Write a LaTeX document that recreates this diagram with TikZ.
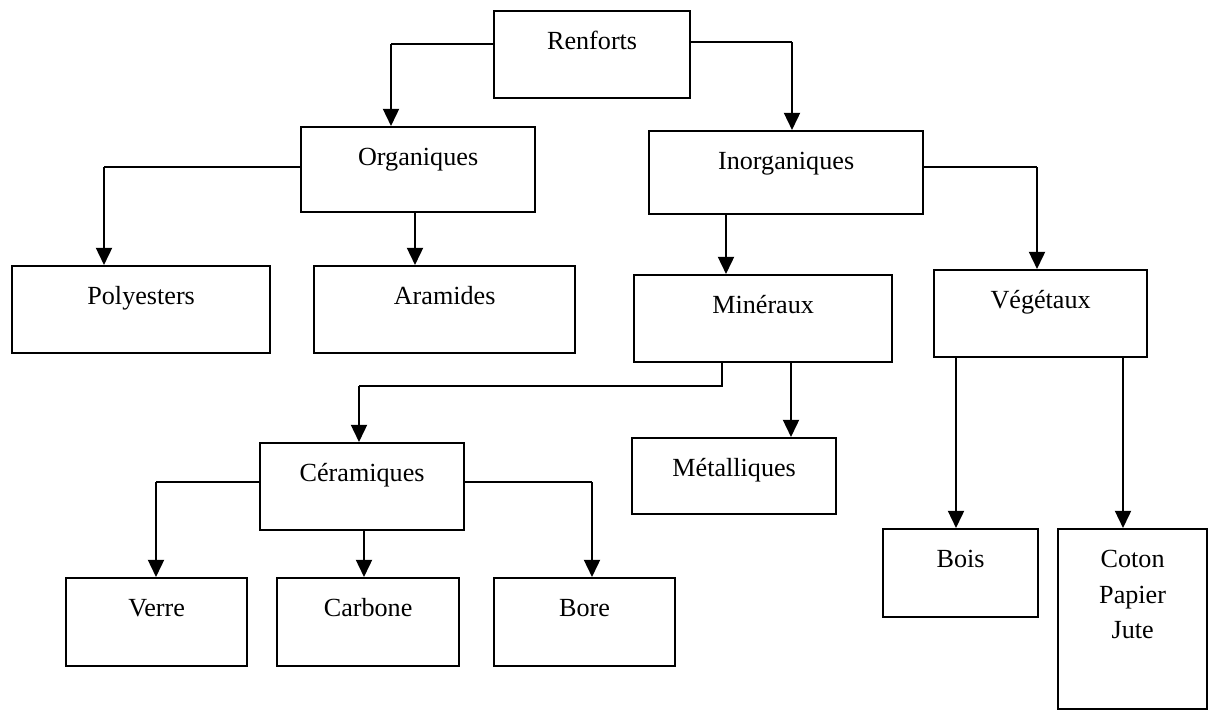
\documentclass[tikz,border=0pt]{standalone}
\usepackage{fontspec}
\setmainfont{Liberation Serif}
\usepackage{tikz}
\usetikzlibrary{arrows.meta}

\tikzset{
  boite/.style={draw, line width=1.6pt, inner sep=0pt, anchor=north west,
    text height=9.5mm, text depth=12.25mm, font=\fontsize{18.6}{22}\selectfont},
  fleche/.style={-{Triangle[width=4mm,length=4.3mm]}, line width=1.5pt},
  trait/.style={line width=0.75pt}
}

\begin{document}
\begin{tikzpicture}[x=0.25mm, y=-0.25mm]
    \useasboundingbox (0,0) rectangle (1208,709);
    \node[boite, minimum width=49mm] (ren) at (493,10) {Renforts};
    \node[boite, minimum width=58.5mm, text depth=11.75mm] (org) at (300,126) {Organiques};
    \node[boite, minimum width=68.5mm, text depth=11.25mm] (inorg) at (648,130) {Inorganiques};
    \node[boite, minimum width=64.5mm] (poly) at (11,265) {Polyesters};
    \node[boite, minimum width=65.25mm] (ara) at (313,265) {Aramides};
    \node[boite, minimum width=64.5mm] (mineraux) at (633,274) {Minéraux};
    \node[boite, minimum width=53.25mm] (veg) at (933,269) {Végétaux};
    \node[boite, minimum width=51mm] (cer) at (259,442) {Céramiques};
    \node[boite, minimum width=51mm, text depth=9.5mm] (met) at (631,437) {Métalliques};
    \node[boite, minimum width=45.25mm, text depth=12.5mm] (verre) at (65,577) {Verre};
    \node[boite, minimum width=45.5mm, text depth=12.5mm] (carb) at (276,577) {Carbone};
    \node[boite, minimum width=45.25mm, text depth=12.5mm] (bore) at (493,577) {Bore};
    \node[boite, minimum width=38.75mm, text depth=12.5mm] (bois) at (882,528) {Bois};
    \node[boite, minimum width=37.25mm, text depth=35.5mm] (coton) at (1057,528)
      {\renewcommand{\arraystretch}{1.16}\begin{tabular}[t]{@{}c@{}}Coton\\Papier\\Jute\end{tabular}};

    \coordinate (c1) at (391,44);
    \coordinate (c2) at (792,42);
    \coordinate (c3) at (104,167);
    \coordinate (c4) at (415,0);
    \coordinate (c5) at (726,0);
    \coordinate (c6) at (1037,167);
    \coordinate (c7) at (722,386);
    \coordinate (c8) at (359,386);
    \coordinate (c9) at (791,0);
    \coordinate (c10) at (956,0);
    \coordinate (c11) at (1123,0);
    \coordinate (c12) at (156,482);
    \coordinate (c13) at (364,0);
    \coordinate (c14) at (592,482);

    \draw[trait] (ren.west |- c1) -- (c1);
    \draw[fleche] (c1) -- (org.north -| c1);
    \draw[trait] (ren.east |- c2) -- (c2);
    \draw[fleche] (c2) -- (inorg.north -| c2);
    \draw[trait] (org.west |- c3) -- (c3);
    \draw[fleche] (c3) -- (poly.north -| c3);
    \draw[fleche] (org.south -| c4) -- (ara.north -| c4);
    \draw[fleche] (inorg.south -| c5) -- (mineraux.north -| c5);
    \draw[trait] (inorg.east |- c6) -- (c6);
    \draw[fleche] (c6) -- (veg.north -| c6);
    \draw[trait] (mineraux.south -| c7) -- (c7) -- (c8);
    \draw[fleche] (c8) -- (cer.north -| c8);
    \draw[fleche] (mineraux.south -| c9) -- (met.north -| c9);
    \draw[fleche] (veg.south -| c10) -- (bois.north -| c10);
    \draw[fleche] (veg.south -| c11) -- (coton.north -| c11);
    \draw[trait] (cer.west |- c12) -- (c12);
    \draw[fleche] (c12) -- (verre.north -| c12);
    \draw[fleche] (cer.south -| c13) -- (carb.north -| c13);
    \draw[trait] (cer.east |- c14) -- (c14);
    \draw[fleche] (c14) -- (bore.north -| c14);
  \end{tikzpicture}
\end{document}
